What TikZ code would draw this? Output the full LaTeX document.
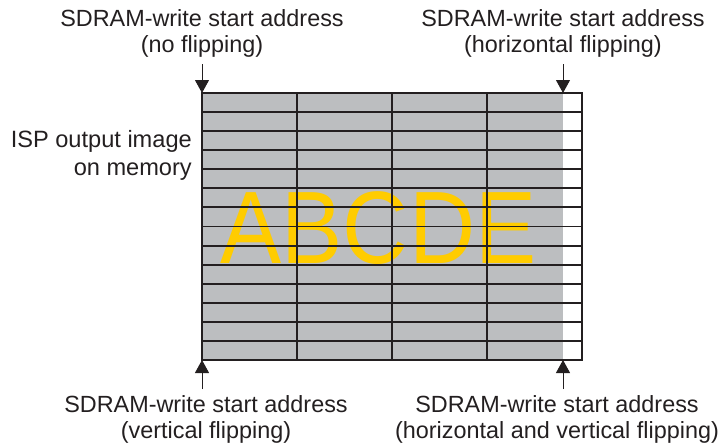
\documentclass[tikz,border=0pt]{standalone}
\usepackage{fontspec}
\setmainfont{Liberation Sans}
\usepackage{xcolor}
\definecolor{inkcolor}{HTML}{231F20}
\definecolor{cellfill}{HTML}{BCBEC0}
\definecolor{lettercolor}{HTML}{FFCC00}
\usetikzlibrary{positioning,arrows.meta}
\tikzset{
    addrlabel/.style={
        text=inkcolor,
        font=\fontsize{23.4}{26}\selectfont,
        align=center,
        inner sep=0pt,
    },
    sidelabel/.style={
        text=inkcolor,
        font=\fontsize{23.6}{28}\selectfont,
        align=right,
        inner sep=0pt,
    },
    gridline/.style={
        draw=inkcolor,
        line width=1.9pt,
    },
    frame/.style={
        draw=inkcolor,
        line width=2.8pt,
    },
    startarrow/.style={
        -{Triangle[width=14pt,length=13pt]},
        line width=1pt,
        inkcolor,
    },
    bigletters/.style={
        text=lettercolor,
        font=\fontsize{103}{103}\selectfont,
        inner sep=0pt,
    },
}

\begin{document}
\begin{tikzpicture}[x=1pt,y=-1pt]
    \useasboundingbox (0,0) rectangle (728,447);

    % Corners of the image in memory
    \coordinate (nw) at (202,93);
    \coordinate (ne) at (563,93);
    \coordinate (sw) at (202,360);
    \coordinate (se) at (563,360);
    \coordinate (frame-ne) at (582,93);
    \coordinate (frame-se) at (582,360);

    % Image area (grey) and padding column (white)
    \fill[cellfill] (nw) rectangle (se);
    \node[bigletters, anchor=base] (word) at (378.5,263) {\scalebox{0.89}[1]{ABCDE}};

    % Row lines
    \foreach \i in {1,...,13} {
        \draw[gridline] (202,93+\i*19.07) -- (582,93+\i*19.07);
    }
    % Column lines
    \foreach \x in {297,392,487} {
        \draw[gridline] (\x,93) -- (\x,360);
    }
    \draw[frame] (nw) rectangle (frame-se);

    % Start address labels (base = last line)
    \node[addrlabel, anchor=base] (noflip) at (202,52) {SDRAM-write start address\\(no flipping)};
    \node[addrlabel, anchor=base] (hflip) at (563,52) {SDRAM-write start address\\(horizontal flipping)};
    \node[addrlabel, anchor=base] (vflip) at (206,438) {SDRAM-write start address\\(vertical flipping)};
    \node[addrlabel, anchor=base] (hvflip) at (557,438) {SDRAM-write start address\\(horizontal and vertical flipping)};
    \node[sidelabel, anchor=base east] (isp) at (192,175) {ISP output image\\on memory};

    % Arrows to the start addresses
    \coordinate (nw-tail) at (202,64);
    \coordinate (ne-tail) at (563,64);
    \coordinate (sw-tail) at (202,389);
    \coordinate (se-tail) at (563,389);
    \draw[startarrow] (nw-tail) -- (nw);
    \draw[startarrow] (ne-tail) -- (ne);
    \draw[startarrow] (sw-tail) -- (sw);
    \draw[startarrow] (se-tail) -- (se);

\end{tikzpicture}
\end{document}
